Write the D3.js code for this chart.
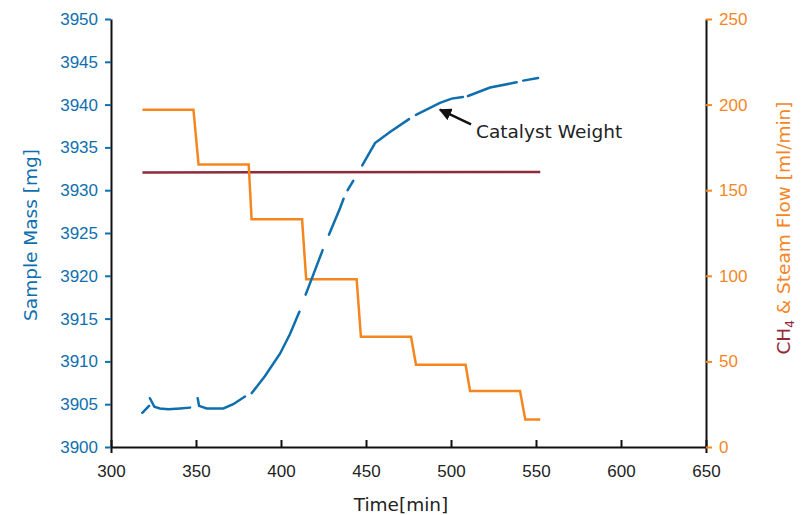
<!DOCTYPE html>
<html>
<head>
<meta charset="utf-8">
<script src="https://cdn.jsdelivr.net/npm/d3@7"></script>
<style>
	body { margin: 0; background: #fff; }
	svg { font-family: "DejaVu Sans", sans-serif; }
</style>
</head>
<body>
<div class="chart"></div>
<script>
// x axis
var timeTicks = [300, 350, 400, 450, 500, 550, 600, 650];
var massTicks = [3900, 3905, 3910, 3915, 3920, 3925, 3930, 3935, 3940, 3945, 3950];
var flowTicks = [0, 50, 100, 150, 200, 250];

// sample mass [mg], null = no data (gaps in the record)
var massTime = [318.4, 322.4, null,
	322.9, 325.5, 328.8, 333.7, 340.6, 346.5, null,
	351.0, 351.8, 356.3, 366.1, 371.9, 378.8, null,
	382.8, 390.6, 399.4, 405.3, 410.8, null,
	414.5, 424.5, null,
	428.2, 434.7, 436.8, null,
	439.2, 442.5, null,
	447.8, 455.3, 464.1, 475.3, null,
	479.4, 493.5, 500.4, 507.0, null,
	510.0, 523.0, 538.6, null,
	542.5, 551.2];
var massValue = [3904.0, 3904.8, null,
	3905.7, 3904.7, 3904.5, 3904.4, 3904.5, 3904.6, null,
	3905.7, 3904.8, 3904.5, 3904.5, 3905.0, 3905.9, null,
	3906.3, 3908.3, 3910.9, 3913.2, 3915.8, null,
	3917.8, 3923.0, null,
	3924.8, 3927.9, 3929.0, null,
	3930.0, 3931.1, null,
	3932.9, 3935.5, 3936.8, 3938.3, null,
	3938.8, 3940.2, 3940.7, 3940.9, null,
	3941.0, 3942.0, 3942.6, null,
	3942.8, 3943.1];

// CH4 & steam flow [ml/min]
var flowTime = [318.5, 348.5, 351.5, 381.0, 382.7, 412.4, 414.8, 444.5, 447.0, 476.5, 479.4, 508.6, 511.2, 540.6, 543.7, 552.5];
var flowValue = [197, 197, 165, 165, 133, 133, 98, 98, 64.4, 64.4, 48, 48, 32.7, 32.7, 16, 16];

// CH4 flow (second line, right axis)
var ch4Time = [318.5, 552.5];
var ch4Value = [160.4, 160.6];

var blue = "#0f6fae", orange = "#f5861f", maroon = "#8e2a3a";

var svg = d3.select(".chart").append("svg").attr("width", 805).attr("height", 515);

var x = d3.scaleLinear().domain([300, 650]).range([111, 706]);
var yMass = d3.scaleLinear().domain([3900, 3950]).range([447, 19]);
var yFlow = d3.scaleLinear().domain([0, 250]).range([447, 19]);

var massData = massTime.map(function(t, i) { return [t, massValue[i]]; });
var flowData = flowTime.map(function(t, i) { return [t, flowValue[i]]; });
var ch4Data = ch4Time.map(function(t, i) { return [t, ch4Value[i]]; });

// axes
var xAxis = svg.append("g").attr("transform", "translate(0,447)")
	.call(d3.axisBottom(x).tickValues(timeTicks).tickFormat(d3.format("d"))
		.tickSizeInner(-7).tickSizeOuter(6).tickPadding(18));
xAxis.selectAll("text").attr("fill", "#222").attr("font-size", 17);

var leftAxis = svg.append("g").attr("transform", "translate(111,0)")
	.call(d3.axisLeft(yMass).tickValues(massTicks).tickFormat(d3.format("d"))
		.tickSize(6).tickSizeOuter(0).tickPadding(7));
leftAxis.selectAll("text").attr("fill", blue).attr("font-size", 17);
leftAxis.selectAll(".tick line").attr("stroke", blue).attr("stroke-width", 2);

var rightAxis = svg.append("g").attr("transform", "translate(706,0)")
	.call(d3.axisRight(yFlow).tickValues(flowTicks).tickFormat(d3.format("d"))
		.tickSize(6).tickSizeOuter(0).tickPadding(7));
rightAxis.selectAll("text").attr("fill", orange).attr("font-size", 17);
rightAxis.selectAll(".tick line").attr("stroke", orange).attr("stroke-width", 2);

svg.selectAll(".domain").attr("stroke", "#111").attr("stroke-width", 2);
xAxis.selectAll(".tick line").attr("stroke", "#111").attr("stroke-width", 2);

// lines
var massLine = d3.line()
	.defined(function(d) { return d[1] != null; })
	.x(function(d) { return x(d[0]); })
	.y(function(d) { return yMass(d[1]); });

var flowLine = d3.line()
	.x(function(d) { return x(d[0]); })
	.y(function(d) { return yFlow(d[1]); });

svg.append("path").datum(ch4Data)
	.attr("d", flowLine).attr("fill", "none")
	.attr("stroke", maroon).attr("stroke-width", 2.5);

svg.append("path").datum(flowData)
	.attr("d", flowLine).attr("fill", "none")
	.attr("stroke", orange).attr("stroke-width", 2.5).attr("stroke-linejoin", "miter");

svg.append("path").datum(massData)
	.attr("d", massLine).attr("fill", "none")
	.attr("stroke", blue).attr("stroke-width", 2.5).attr("stroke-linecap", "round");

// annotation
svg.append("defs").append("marker")
	.attr("id", "arrow").attr("viewBox", "0 0 10 10")
	.attr("refX", 9).attr("refY", 5)
	.attr("markerWidth", 5).attr("markerHeight", 5)
	.attr("orient", "auto")
	.append("path").attr("d", "M0,0L10,5L0,10Z").attr("fill", "#111");

svg.append("line")
	.attr("x1", x(511.8)).attr("y1", yMass(3937.7))
	.attr("x2", x(493.5)).attr("y2", yMass(3939.4))
	.attr("stroke", "#111").attr("stroke-width", 2.5)
	.attr("marker-end", "url(#arrow)");

svg.append("text")
	.attr("x", x(514.7)).attr("y", yMass(3936.1))
	.attr("font-size", 18.5).attr("fill", "#222")
	.text("Catalyst Weight");

// axis titles
svg.append("text")
	.attr("x", 401).attr("y", 511)
	.attr("text-anchor", "middle").attr("font-size", 18.5).attr("fill", "#222")
	.text("Time[min]");

svg.append("text")
	.attr("transform", "translate(37,235) rotate(-90)")
	.attr("text-anchor", "middle").attr("font-size", 18.5).attr("fill", blue)
	.text("Sample Mass [mg]");

var rightTitle = svg.append("text")
	.attr("transform", "translate(790,228) rotate(-90)")
	.attr("text-anchor", "middle").attr("font-size", 18.5);
rightTitle.append("tspan").attr("fill", maroon).text("CH");
rightTitle.append("tspan").attr("fill", maroon).attr("font-size", 12).attr("dy", 4).text("4");
rightTitle.append("tspan").attr("fill", orange).attr("dy", -4).text(" & Steam Flow [ml/min]");
</script>
</body>
</html>
